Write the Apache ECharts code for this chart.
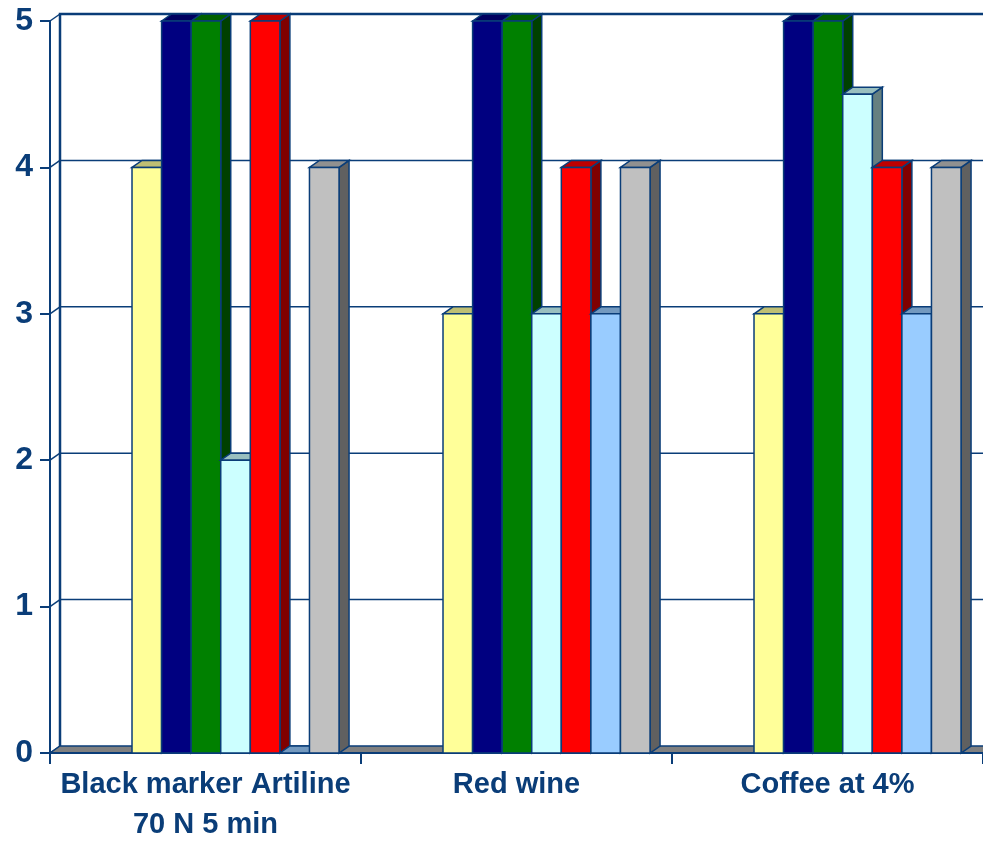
<!DOCTYPE html>
<html>
<head>
<meta charset="utf-8">
<script src="https://cdn.jsdelivr.net/npm/echarts@6/dist/echarts.min.js"></script>
<style>
  html, body { margin: 0; padding: 0; background: #ffffff; overflow: hidden; }
  #chart { width: 983px; height: 845px; }
</style>
</head>
<body>
<div id="chart"></div>
<script>
// Categories and tick values
const categories = ['Black marker Artiline\n70 N 5 min', 'Red wine', 'Coffee at 4%'];
const yTicks = [0, 1, 2, 3, 4, 5];

// Scores per category, one array per series (left to right within a group)
const seriesYellow    = [4, 3, 3];
const seriesNavy      = [5, 5, 5];
const seriesGreen     = [5, 5, 5];
const seriesCyan      = [2, 3, 4.5];
const seriesRed       = [5, 4, 4];
const seriesLightBlue = [0, 3, 3];
const seriesGrey      = [4, 4, 4];

const seriesList = [
  { name: 'Series 1', values: seriesYellow,    color: '#FFFF99' },
  { name: 'Series 2', values: seriesNavy,      color: '#000080' },
  { name: 'Series 3', values: seriesGreen,     color: '#008000' },
  { name: 'Series 4', values: seriesCyan,      color: '#CCFFFF' },
  { name: 'Series 5', values: seriesRed,       color: '#FF0000' },
  { name: 'Series 6', values: seriesLightBlue, color: '#99CCFF' },
  { name: 'Series 7', values: seriesGrey,      color: '#C0C0C0' }
];

const INK = '#0a3d78';
const DX = 10, DY = -7;          // depth offset of the 3D look
const GROUP_OFFSET = 0.2637;     // start of the first bar inside a category band
const BAR_FRACTION = 0.0951;     // bar width as a share of the band

function shade(hex, k) {
  const n = parseInt(hex.slice(1), 16);
  const r = Math.round(((n >> 16) & 255) * k);
  const g = Math.round(((n >> 8) & 255) * k);
  const b = Math.round((n & 255) * k);
  return 'rgb(' + r + ',' + g + ',' + b + ')';
}

// Walls, floor and back gridlines
function renderFrame(params, api) {
  const cs = params.coordSys;
  const left = cs.x, top = cs.y, right = cs.x + cs.width, bottom = cs.y + cs.height;
  const children = [];
  const lineStyle = { stroke: INK, lineWidth: 1.5, fill: null };
  // back wall outline: left edge and top edge
  children.push({ type: 'polyline', shape: { points: [[left + DX, bottom + DY], [left + DX, top + DY], [right + DX, top + DY]] }, style: { stroke: INK, lineWidth: 2.5, fill: null } });
  // gridlines on the back wall and the side wall
  yTicks.forEach(function (t) {
    const y = api.coord([0, t])[1];
    if (t > 0) {
      children.push({ type: 'line', shape: { x1: left + DX, y1: y + DY, x2: right + DX, y2: y + DY }, style: lineStyle });
    }
    children.push({ type: 'line', shape: { x1: left, y1: y, x2: left + DX, y2: y + DY }, style: lineStyle });
  });
  // floor
  children.push({
    type: 'polygon',
    shape: { points: [[left, bottom], [left + DX, bottom + DY], [right + DX, bottom + DY], [right, bottom]] },
    style: { fill: '#808080', stroke: INK, lineWidth: 1.5 }
  });
  children.push({ type: 'line', shape: { x1: left, y1: top, x2: left, y2: bottom }, style: { stroke: INK, lineWidth: 2 } });
  children.push({ type: 'line', shape: { x1: left - 10, y1: bottom, x2: right + DX, y2: bottom }, style: { stroke: INK, lineWidth: 2 } });
  return { type: 'group', children: children };
}

function makeBarRenderer(sIndex, color) {
  return function (params, api) {
    const ci = api.value(0);
    const v = api.value(1);
    const base = api.coord([ci, 0]);
    const topPt = api.coord([ci, v]);
    const band = api.size([1, 0])[0];
    const w = band * BAR_FRACTION;
    const x0 = base[0] - band / 2 + band * GROUP_OFFSET + sIndex * w;
    const y0 = base[1];
    const y1 = topPt[1];
    const stroke = { stroke: INK, lineWidth: 1.5 };
    const children = [
      {
        type: 'polygon',
        shape: { points: [[x0 + w, y1], [x0 + w + DX, y1 + DY], [x0 + w + DX, y0 + DY], [x0 + w, y0]] },
        style: Object.assign({ fill: shade(color, 0.5) }, stroke)
      },
      {
        type: 'polygon',
        shape: { points: [[x0, y1], [x0 + DX, y1 + DY], [x0 + w + DX, y1 + DY], [x0 + w, y1]] },
        style: Object.assign({ fill: shade(color, 0.75) }, stroke)
      }
    ];
    if (y0 - y1 > 0.5) {
      children.push({
        type: 'rect',
        shape: { x: x0, y: y1, width: w, height: y0 - y1 },
        style: Object.assign({ fill: color }, stroke)
      });
    }
    return { type: 'group', children: children };
  };
}

const chart = echarts.init(document.getElementById('chart'), null, { renderer: 'canvas', width: 983, height: 845 });

const series = [{
  type: 'custom',
  name: 'frame',
  silent: true,
  renderItem: renderFrame,
  data: [[0, 0]],
  encode: { x: 0, y: 1 },
  z: 1
}].concat(seriesList.map(function (s, i) {
  return {
    type: 'custom',
    name: s.name,
    renderItem: makeBarRenderer(i, s.color),
    data: s.values.map(function (v, ci) { return [ci, v]; }),
    encode: { x: 0, y: 1 },
    z: 2 + i
  };
}));

chart.setOption({
  animation: false,
  backgroundColor: '#ffffff',
  grid: { left: 50, width: 933, top: 21, height: 739, containLabel: false },
  xAxis: {
    type: 'category',
    data: categories,
    boundaryGap: true,
    axisLine: { show: true, lineStyle: { color: INK, width: 2 } },
    axisTick: { show: true, length: 11, lineStyle: { color: INK, width: 2 } },
    axisLabel: {
      color: INK,
      fontFamily: 'Liberation Sans, Arial, sans-serif',
      fontWeight: 'bold',
      fontSize: 29,
      lineHeight: 40,
      margin: 12,
      interval: 0
    },
    splitLine: { show: false }
  },
  yAxis: {
    type: 'value',
    min: 0,
    max: 5,
    interval: 1,
    axisLine: { show: true, lineStyle: { color: INK, width: 2 } },
    axisTick: { show: true, length: 10, lineStyle: { color: INK, width: 2 } },
    axisLabel: {
      color: INK,
      fontFamily: 'Liberation Sans, Arial, sans-serif',
      fontWeight: 'bold',
      fontSize: 32,
      margin: 17
    },
    splitLine: { show: false }
  },
  series: series
});
</script>
</body>
</html>
